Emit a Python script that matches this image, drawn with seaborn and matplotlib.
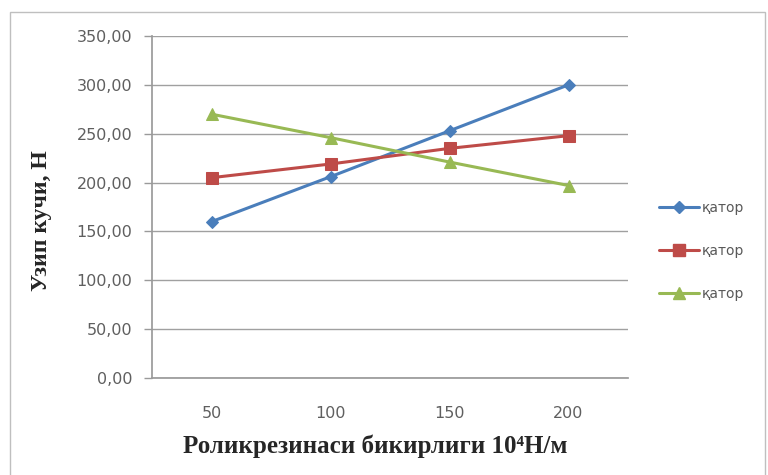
import matplotlib
matplotlib.use("Agg")
import matplotlib.pyplot as plt
from matplotlib.patches import Rectangle
import seaborn as sns
import pandas as pd

# Stiffness of the roller rubber (x categories)
stiffness = ["50", "100", "150", "200"]
# Traction force, N, for each row
row1 = [160.0, 206.0, 253.0, 300.0]
row2 = [205.0, 219.0, 235.0, 248.0]
row3 = [270.0, 246.0, 221.0, 197.0]
series_names = ["қатор", "қатор", "қатор"]
y_ticks = [0, 50, 100, 150, 200, 250, 300, 350]

colors = ["#4A7EBB", "#BE4B48", "#98B954"]
markers = ["D", "s", "^"]
msizes = [6, 8, 8]

sns.set_theme(style="white")
plt.rcParams["font.family"] = ["DejaVu Sans"]

fig = plt.figure(figsize=(7.68, 4.75), dpi=100)
ax = fig.add_axes([152 / 768, 1 - 378 / 475, 476 / 768, 342 / 475])

# outer chart frame
fig.patches.append(Rectangle((10 / 768, -0.05), 755 / 768, 1.05 - 12 / 475,
                             transform=fig.transFigure, fill=False,
                             edgecolor="#BFBFBF", linewidth=1.0))

pos = list(range(len(stiffness)))
handles = []
for vals, name, c, m, ms in zip([row1, row2, row3], series_names, colors, markers, msizes):
    df = pd.DataFrame({"x": pos, "y": vals})
    sns.lineplot(data=df, x="x", y="y", ax=ax, color=c, linewidth=2.2,
                 marker=m, markersize=ms, markeredgecolor=c, legend=False)
    handles.append(plt.Line2D([], [], color=c, linewidth=2.2, marker=m,
                              markersize=ms, markeredgecolor=c, label=name))

ax.set_xlim(-0.5, len(stiffness) - 0.5)
ax.set_ylim(0, 350)
ax.set_yticks(y_ticks)
ax.set_yticklabels([f"{v:.2f}".replace(".", ",") for v in y_ticks],
                   fontsize=11.5, color="#5F5F5F")
ax.set_xticks(pos)
ax.set_xticklabels(stiffness, fontsize=11.5, color="#5F5F5F")
ax.set_xticks([p - 0.5 for p in pos] + [len(pos) - 0.5], minor=True)
ax.tick_params(axis="x", which="major", length=0, pad=20)
ax.tick_params(axis="x", which="minor", length=5, color="#9A9A9A", width=1)
ax.tick_params(axis="y", which="major", length=6, color="#9A9A9A", width=1,
               left=True, pad=8)

ax.grid(axis="y", color="#A0A0A0", linewidth=1)
ax.set_axisbelow(True)
for side in ["top", "right"]:
    ax.spines[side].set_visible(False)
ax.spines["left"].set_color("#9A9A9A")
ax.spines["bottom"].set_color("#9A9A9A")

ax.set_xlabel("Роликрезинаси бикирлиги 10⁴Н/м", fontsize=18,
              fontweight="bold", family=["Liberation Serif", "DejaVu Serif"],
              color="#262626")
ax.xaxis.set_label_coords(0.47, -0.165)
ax.set_ylabel("Узип кучи, Н", fontsize=17, fontweight="bold",
              family="Liberation Serif", color="#262626")
ax.yaxis.set_label_coords(-0.21, 0.46)

fig.legend(handles=handles, loc="center left",
           bbox_to_anchor=(646 / 768, 1 - 251 / 475), frameon=False,
           fontsize=10, labelcolor="#595959", handlelength=2.9,
           labelspacing=2.1, handletextpad=0.2)

fig.savefig("out.png", dpi=100, facecolor="white")
